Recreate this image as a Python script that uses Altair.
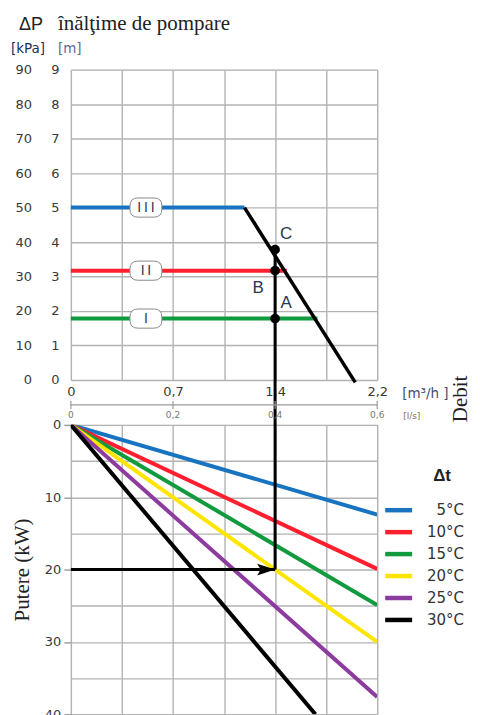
import altair as alt
import pandas as pd

# ---------------- data ----------------
grid_flow = [0, 0.1, 0.2, 0.3, 0.4, 0.5, 0.6]          # l/s grid
m3h_tick_flow = [0, 0.2, 0.4, 0.6]
m3h_tick_labels = ["0", "0,7", "1,4", "2,2"]
ls_tick_flow = [0, 0.2, 0.4, 0.6]
ls_tick_labels = ["0", "0,2", "0,4", "0,6"]

head_grid = [0, 10, 20, 30, 40, 50, 60, 70, 80, 90]      # kPa

pump_names = ["III", "II", "I"]
pump_head = [50, 31.7, 17.8]
pump_end = [0.34, 0.423, 0.483]
pump_colors = ["#1874c1", "#ff1f2e", "#129a3e"]
pump_label_flow = 0.147

curve_flow = [0.34, 0.557]
curve_head = [50, -0.7]

op_flow = 0.4
op_names = ["A", "B", "C"]
op_head = [17.8, 31.7, 37.8]
op_power = 20

power_grid = [0, 5, 10, 15, 20, 25, 30, 35, 40]
dt_labels = ["5°C", "10°C", "15°C", "20°C", "25°C", "30°C"]
dt_end_flow = [0.6, 0.6, 0.6, 0.6, 0.6, 0.479]
dt_end_power = [12.4, 19.9, 24.9, 30.0, 37.6, 40.0]
dt_colors = ["#1874c1", "#ff1f2e", "#129a3e", "#ffe500", "#8c3b9e", "#000000"]

# ---------------- layout constants ----------------
W = 307
H1 = 311
H2 = 290
GAP = 45
NB = "\u00a0"
TICKFONT = "DejaVu Sans"
GRID = "#b3b3b3"


def label_expr(vals, labs):
    e = "''"
    for v, l in reversed(list(zip(vals, labs))):
        e = f"abs(datum.value - {v}) < 0.001 ? '{l}' : ({e})"
    return e


xs = alt.Scale(domain=[0, 0.6], nice=False, zero=False)
ys_top = alt.Scale(domain=[0, 90], nice=False)
ys_bot = alt.Scale(domain=[0, 40], nice=False, reverse=True)

x_axis_top = alt.Axis(values=grid_flow, labelExpr=label_expr(m3h_tick_flow, m3h_tick_labels),
                      grid=True, gridColor=GRID, gridWidth=1.4, ticks=False, domain=False,
                      labelFlush=False, labelPadding=6, labelFontSize=13, labelFont=TICKFONT,
                      labelColor="#383838", labelAngle=0, title=None)
y_axis_top = alt.Axis(values=head_grid,
                      labelExpr="format(datum.value,'d') + '" + NB * 4 + "\u2009' + format(datum.value/10,'d')",
                      grid=True, gridColor=GRID, gridWidth=1.4, ticks=False, domain=False,
                      labelPadding=12, labelFontSize=13, labelFont=TICKFONT, labelColor="#383838",
                      labelFlush=False, title=None)
x_axis_bot = alt.Axis(values=grid_flow, grid=True, gridColor=GRID, gridWidth=1.4, labels=False,
                      ticks=False, domain=False, title=None)
y_axis_bot = alt.Axis(values=power_grid, labelExpr="datum.value % 10 == 0 ? datum.label : ''",
                      grid=True, gridColor=GRID, gridWidth=1.4, domain=False,
                      tickSize=7, tickColor="#9a9a9a", tickWidth=1.4,
                      tickOpacity={"condition": {"test": "datum.value % 10 == 0", "value": 1}, "value": 0},
                      labelPadding=3, labelFontSize=13, labelFont=TICKFONT, labelColor="#383838",
                      labelFlush=False,
                      title="Putere (kW)", titleFont="Liberation Serif", titleFontSize=21,
                      titleFontWeight="normal", titleColor="#222", titlePadding=12)


def XT(f):
    return alt.X(f, scale=xs, axis=x_axis_top)


def YT(f):
    return alt.Y(f, scale=ys_top, axis=y_axis_top)


def XB(f):
    return alt.X(f, scale=xs, axis=x_axis_bot)


def YB(f):
    return alt.Y(f, scale=ys_bot, axis=y_axis_bot)


# ---------------- top panel ----------------
pump_df = pd.DataFrame({
    "name": pump_names,
    "txt": ["\u2009".join(n) for n in pump_names],
    "head": pump_head,
    "start": [grid_flow[0]] * len(pump_names),
    "end": pump_end,
    "color": pump_colors,
    "lab": [pump_label_flow] * len(pump_names),
})

pump_lines = alt.Chart(pump_df).mark_rule(strokeWidth=4).encode(
    x=XT("start:Q"), x2="end:Q", y=YT("head:Q"),
    stroke=alt.Stroke("color:N", scale=None, legend=None),
)

curve = alt.Chart(pd.DataFrame({"flow": curve_flow, "head": curve_head})).mark_line(
    color="black", strokeWidth=3.5, clip=False
).encode(x=XT("flow:Q"), y=YT("head:Q"))

op_df = pd.DataFrame({"flow": [op_flow] * len(op_names), "head": op_head, "name": op_names})
vline_top = alt.Chart(pd.DataFrame({"flow": [op_flow], "top": [max(op_head)], "bottom": [head_grid[0]]})).mark_rule(
    color="black", strokeWidth=3
).encode(x=XT("flow:Q"), y=YT("top:Q"), y2="bottom:Q")
op_points = alt.Chart(op_df).mark_circle(size=95, color="black", opacity=1).encode(
    x=XT("flow:Q"), y=YT("head:Q"))
op_text_ac = alt.Chart(op_df).transform_filter("datum.name != 'B'").mark_text(
    font="Liberation Sans", fontSize=17, color="#2b3550", dx=11, dy=-16
).encode(x=XT("flow:Q"), y=YT("head:Q"), text="name:N")
op_text_b = alt.Chart(op_df).transform_filter("datum.name == 'B'").mark_text(
    font="Liberation Sans", fontSize=17, color="#2b3550", dx=-17, dy=17
).encode(x=XT("flow:Q"), y=YT("head:Q"), text="name:N")

box_path = ("M -0.5 -0.6 L 0.5 -0.6 Q 1 -0.6 1 -0.1 L 1 0.1 Q 1 0.6 0.5 0.6 "
            "L -0.5 0.6 Q -1 0.6 -1 0.1 L -1 -0.1 Q -1 -0.6 -0.5 -0.6 Z")
boxes = alt.Chart(pump_df).mark_point(
    shape=box_path, size=1024, filled=True, fill="white", stroke="#8a8a8a", strokeWidth=1, opacity=1
).encode(x=XT("lab:Q"), y=YT("head:Q"))
roman = alt.Chart(pump_df).mark_text(font="Liberation Sans", fontSize=14, color="#2d3a55").encode(
    x=XT("lab:Q"), y=YT("head:Q"), text="txt:N")

one = pd.DataFrame({"k": [0]})


def label(text, x, y, **kw):
    return alt.Chart(one).mark_text(**kw).encode(x=alt.value(x), y=alt.value(y), text=alt.value(text))


t_dp = label("ΔP", -52, -40, font="Liberation Sans", fontSize=18, color="#222", align="left", baseline="alphabetic")
t_title = label("înălţime de pompare", -13, -40, font="Liberation Serif", fontSize=21, color="#222",
                align="left", baseline="alphabetic")
t_kpa = label("[kPa]", -60, -21, font=TICKFONT, fontSize=13.5, color="#1c2d5a", align="left", baseline="middle")
t_m = label("[m]", -13, -21, font=TICKFONT, fontSize=13.5, color="#5c6b8f", align="left", baseline="middle")
t_m3h = label("[m³/h ]", 332, H1 + 14, font=TICKFONT, fontSize=13.5, color="#3f4c6b", align="left", baseline="middle")
t_debit = label("Debit", 391, H1 + 19, font="Liberation Serif", fontSize=21, color="#222", angle=270,
                align="center", baseline="middle")

top = alt.layer(
    pump_lines, curve, vline_top, boxes, roman, op_points, op_text_ac, op_text_b,
    t_dp, t_title, t_kpa, t_m, t_m3h, t_debit,
).properties(width=W, height=H1)

# ---------------- bottom panel ----------------
rows = []
for lab, fx, py in zip(dt_labels, dt_end_flow, dt_end_power):
    rows.append({"dt": lab, "flow": 0.0, "power": 0.0})
    rows.append({"dt": lab, "flow": fx, "power": py})
line_df = pd.DataFrame(rows)

legend_symbol = "M -1.35 0 L 1.35 0"
lines = alt.Chart(line_df).mark_line(strokeWidth=4, clip=True).encode(
    x=XB("flow:Q"),
    y=YB("power:Q"),
    color=alt.Color("dt:N", scale=alt.Scale(domain=dt_labels, range=dt_colors),
                    legend=alt.Legend(orient="none", legendX=316, legendY=73, title=None,
                                      symbolType=legend_symbol, symbolSize=400, symbolStrokeWidth=4.5,
                                      labelAlign="right", labelOffset=53, labelFontSize=15,
                                      labelFont=TICKFONT, labelColor="#333", rowPadding=0,
                                      labelLimit=0)),
    detail="dt:N",
)

arrow_df = pd.DataFrame({"x0": [grid_flow[0]], "x1": [op_flow], "power": [op_power]})
h_arrow = alt.Chart(arrow_df).mark_rule(color="black", strokeWidth=3).encode(
    x=XB("x0:Q"), x2="x1:Q", y=YB("power:Q"))
arrow_path = "M 0 0 L -1 -0.33 L -0.8 0 L -1 0.33 Z"
arrow_head = alt.Chart(arrow_df).mark_point(shape=arrow_path, size=1296, filled=True, color="black",
                                            opacity=1).encode(x=XB("x1:Q"), y=YB("power:Q"))
v_arrow = alt.Chart(arrow_df).mark_rule(color="black", strokeWidth=3).encode(
    x=XB("x1:Q"), y=YB("power:Q"), y2=alt.value(-GAP))

ls_df = pd.DataFrame({"flow": ls_tick_flow, "lab": ls_tick_labels})
ls_line = alt.Chart(pd.DataFrame({"a": [min(ls_tick_flow)], "b": [max(ls_tick_flow)]})).mark_rule(
    color="#9a9a9a", strokeWidth=1.2
).encode(x=XB("a:Q"), x2="b:Q", y=alt.value(-20))
ls_ticks = alt.Chart(ls_df).mark_rule(color="#9a9a9a", strokeWidth=1.2).encode(
    x=XB("flow:Q"), y=alt.value(-24), y2=alt.value(-16))
ls_labels = alt.Chart(ls_df).mark_text(font=TICKFONT, fontSize=9, color="#777").encode(
    x=XB("flow:Q"), y=alt.value(-10), text="lab:N")
t_ls = label("[l/s]", 333, -9, font=TICKFONT, fontSize=9, color="#8a6e6e", align="left", baseline="middle")
t_dt = label("Δt", 372, 51, font="Liberation Sans", fontSize=17, fontWeight="bold", color="#222",
             align="center", baseline="middle")

bottom = alt.layer(
    lines, v_arrow, h_arrow, arrow_head, ls_line, ls_ticks, ls_labels, t_ls, t_dt,
).properties(width=W, height=H2)

chart = alt.vconcat(top, bottom, spacing=GAP, bounds="flush").resolve_scale(
    color="independent", stroke="independent"
).resolve_legend(color="independent").properties(
    padding={"left": 2, "top": 3, "right": 0, "bottom": 0}
).configure_view(stroke="#a5a5a5", strokeWidth=1.5).configure(background="white")

chart.save("out.html", embed_options={"renderer": "svg", "actions": False})
